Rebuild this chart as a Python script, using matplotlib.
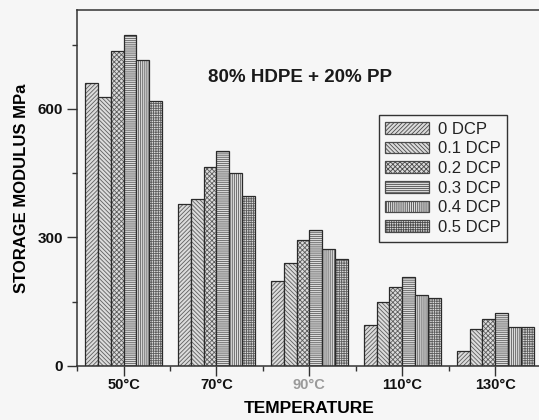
import numpy as np
import matplotlib
matplotlib.use('Agg')
import matplotlib.pyplot as plt
from matplotlib.ticker import MultipleLocator

plt.rcParams['font.family'] = ['Liberation Sans', 'DejaVu Sans']
plt.rcParams['hatch.linewidth'] = 0.6

temperatures = ['50°C', '70°C', '90°C', '110°C', '130°C']
dcp_labels = ['0 DCP', '0.1 DCP', '0.2 DCP', '0.3 DCP', '0.4 DCP', '0.5 DCP']
modulus_0 = [661, 378, 198, 96, 35]
modulus_01 = [628, 390, 240, 149, 86]
modulus_02 = [735, 465, 294, 184, 110]
modulus_03 = [773, 502, 318, 208, 124]
modulus_04 = [714, 450, 273, 166, 91]
modulus_05 = [619, 397, 250, 159, 91]
series = [modulus_0, modulus_01, modulus_02, modulus_03, modulus_04, modulus_05]
hatches = ['/' * 8, '\\' * 8, 'x' * 7, '-' * 8, '|' * 8, '+' * 7]

bg = '#f6f6f6'
fig = plt.figure(figsize=(5.39, 4.2), dpi=100, facecolor=bg)
ax = fig.add_axes([0.143, 0.1286, 0.862, 0.8476], facecolor=bg)

x = np.arange(len(temperatures))
w = 0.138
handles = []
for j, vals in enumerate(series):
    pos = x + (j - 2.5) * w
    # hatched fill in grey, outline drawn separately in black
    ax.bar(pos, vals, w, color='#dcdcdc', edgecolor='#5e5e5e', hatch=hatches[j], linewidth=0)
    ax.bar(pos, vals, w, fill=False, edgecolor='#2a2a2a', linewidth=0.9)
    h = plt.Rectangle((0, 0), 1, 1, facecolor='#dcdcdc', edgecolor='#4a4a4a', hatch=hatches[j], linewidth=0.9)
    handles.append(h)

ax.set_xlim(-0.5, 4.5)
ax.set_ylim(0, 831)
ax.set_xticks(x)
ax.set_xticklabels(temperatures, fontsize=10.5, fontweight='bold')
ax.xaxis.set_minor_locator(MultipleLocator(1, offset=0.5))
ax.yaxis.set_major_locator(MultipleLocator(300))
ax.yaxis.set_minor_locator(MultipleLocator(150))
for lab in ax.get_yticklabels():
    lab.set_fontsize(11)
    lab.set_fontweight('bold')

ax.tick_params(axis='both', which='major', direction='out', length=7, width=1, colors='#333333')
ax.tick_params(axis='both', which='minor', direction='out', length=3.5, width=1, colors='#333333')
ax.tick_params(axis='x', pad=2)
ax.tick_params(axis='y', pad=3)
ax.tick_params(axis='both', labelcolor='#111111')
ax.get_xticklabels()[2].set_color('#9a9a9a')
for s in ax.spines.values():
    s.set_color('#333333')
    s.set_linewidth(1.1)

ax.set_xlabel('TEMPERATURE', fontsize=12.5, fontweight='bold', labelpad=6)
ax.set_ylabel('STORAGE MODULUS MPa', fontsize=12, fontweight='bold', labelpad=6)

ax.text(0.48, 0.81, '80% HDPE + 20% PP', transform=ax.transAxes, ha='center', va='center',
        fontsize=13.5, fontweight='bold', color='#1a1a1a')

leg = ax.legend(handles, dcp_labels, loc='upper right', bbox_to_anchor=(0.926, 0.705),
                borderaxespad=0, fontsize=12, handlelength=2.6, handleheight=0.7,
                handletextpad=0.55, labelspacing=0.28, borderpad=0.4,
                fancybox=False, framealpha=1, edgecolor='#333333', facecolor=bg)
leg.get_frame().set_linewidth(1.0)
for t in leg.get_texts():
    t.set_color('#222222')

fig.savefig('out.png', dpi=100, facecolor=bg)
